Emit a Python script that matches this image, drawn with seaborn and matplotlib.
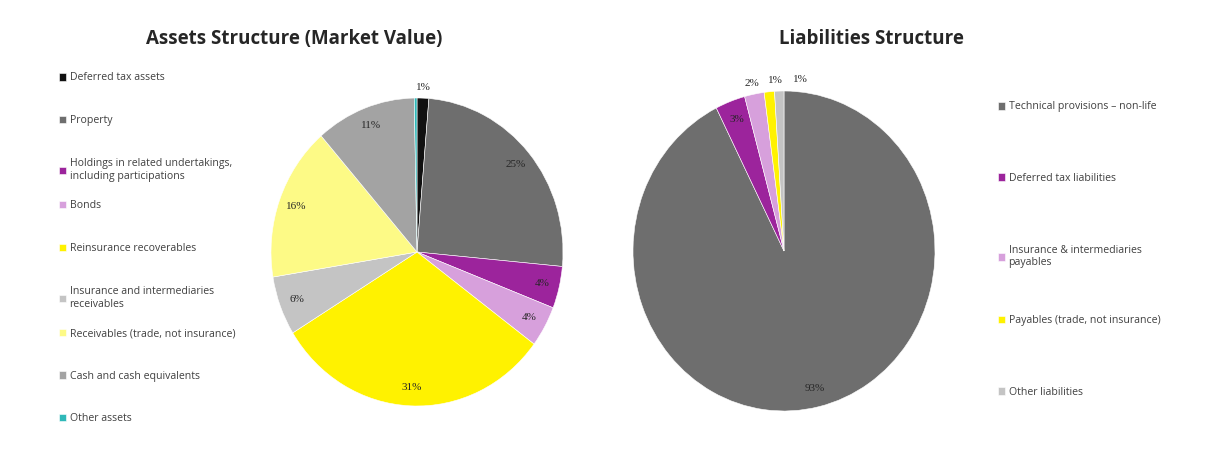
import numpy as np
import matplotlib
matplotlib.use("Agg")
import matplotlib.pyplot as plt
import seaborn as sns

# Assets structure (share of total, %), clockwise from 12 o'clock
asset_labels = ["Deferred tax assets", "Property",
                "Holdings in related undertakings,\nincluding participations",
                "Bonds", "Reinsurance recoverables",
                "Insurance and intermediaries\nreceivables",
                "Receivables (trade, not insurance)",
                "Cash and cash equivalents", "Other assets"]
asset_values = [1.3, 25.2, 4.4, 4.3, 31.0, 6.2, 16.2, 11.1, 0.3]
asset_colors = ["#111111", "#6e6e6e", "#9c249c", "#d7a0dc", "#fff200",
                "#c4c4c4", "#fdfa86", "#a3a3a3", "#2fb8b8"]

# Liabilities structure (%)
liab_labels = ["Technical provisions \u2013 non-life", "Deferred tax liabilities",
               "Insurance & intermediaries\npayables",
               "Payables (trade, not insurance)", "Other liabilities"]
liab_values = [92.6, 3.2, 2.1, 1.1, 1.0]
liab_colors = ["#6e6e6e", "#9c249c", "#d7a0dc", "#fff200", "#c4c4c4"]

sns.set_theme(style="white")
plt.rcParams["font.family"] = ["Open Sans", "DejaVu Sans"]

W, H = 1209, 455
fig = plt.figure(figsize=(W / 100, H / 100), dpi=100)


def px_axes(cx, cy, rx, ry):
    return fig.add_axes([(cx - rx) / W, 1 - (cy + ry) / H, 2 * rx / W, 2 * ry / H])


def draw_pie(ax, values, colors):
    wedges, texts, autotexts = ax.pie(
        values, colors=sns.color_palette(colors), startangle=90, counterclock=False,
        autopct=lambda p: "" if p < 0.5 else "%.0f%%" % p, pctdistance=0.88,
        wedgeprops=dict(linewidth=0.4, edgecolor="white"),
        textprops=dict(fontsize=8, family="Liberation Serif", color="#262626"))
    # small slices get their label just outside the rim, spread so they don't collide
    small = []
    for w, t, v in zip(wedges, autotexts, values):
        if 0.5 <= v < 2.5:
            ang = np.deg2rad((w.theta1 + w.theta2) / 2)
            small.append([1.09 * np.cos(ang), 1.07 * np.sin(ang), t])
    small.sort(key=lambda s: s[0])
    for i in range(1, len(small)):
        if small[i][0] - small[i - 1][0] < 0.16:
            small[i][0] = small[i - 1][0] + 0.16
    for x, y, t in small:
        t.set_position((x, y))
    ax.set_aspect("auto")
    ax.set_xlim(-1, 1)
    ax.set_ylim(-1, 1)
    return wedges


def draw_legend(wedges, labels, x, y0, step):
    for i, (w, lab) in enumerate(zip(wedges, labels)):
        nl = lab.count("\n")
        y = y0 + i * step + nl * 7
        fig.legend([w], [lab], loc="center left", bbox_to_anchor=(x / W, 1 - y / H),
                   frameon=False, handlelength=0.7, handleheight=0.7, handletextpad=0.3,
                   borderpad=0, borderaxespad=0, prop=dict(family="Open Sans", size=7.6),
                   labelcolor="#404040")


ax1 = px_axes(417, 252, 146, 154)
w1 = draw_pie(ax1, asset_values, asset_colors)
draw_legend(w1, asset_labels, 59, 78, 42.6)

ax2 = px_axes(784, 251, 151, 160)
w2 = draw_pie(ax2, liab_values, liab_colors)
draw_legend(w2, liab_labels, 998, 107, 71.3)

fig.text(294 / W, 1 - 39 / H, "Assets Structure (Market Value)", ha="center", va="center",
         fontsize=13.5, fontweight="bold", color="#262626")
fig.text(871 / W, 1 - 39 / H, "Liabilities Structure", ha="center", va="center",
         fontsize=13.5, fontweight="bold", color="#262626")

fig.savefig("out.png", dpi=100, facecolor="white")
